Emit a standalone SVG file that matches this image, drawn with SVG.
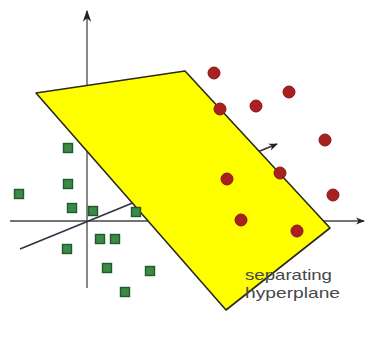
<svg xmlns="http://www.w3.org/2000/svg" width="366" height="340" viewBox="0 0 366 340">
<style>
.sq{fill:#3b8a48;stroke:#1f5a2a;stroke-width:1.4}
.dot{fill:#a82020;stroke:#8a1515;stroke-width:1}
.lbl{font-family:"Liberation Sans",Arial,sans-serif;font-size:15px;fill:#484848}
</style>
<defs>
<marker id="ah" viewBox="0 0 10 10" refX="9" refY="5" markerWidth="9" markerHeight="9" markerUnits="userSpaceOnUse" orient="auto">
<path d="M0,1 L10,5 L0,9 L3,5 Z" fill="#222"/>
</marker>
<marker id="ahv" viewBox="0 0 10 10" refX="9" refY="5" markerWidth="12" markerHeight="12" markerUnits="userSpaceOnUse" orient="auto">
<path d="M0,1.5 L10,5 L0,8.5 L3,5 Z" fill="#222"/>
</marker>
</defs>
<rect width="366" height="340" fill="#fff"/>
<g id="axes">
<line x1="87" y1="288" x2="87" y2="11" stroke="#888" stroke-width="2" marker-end="url(#ahv)"/>
<line x1="10" y1="221" x2="364" y2="221" stroke="#444" stroke-width="1.5" marker-end="url(#ah)"/>
<line x1="20" y1="249" x2="277" y2="144" stroke="#3a3048" stroke-width="1.8" marker-end="url(#ah)"/>
</g>
<g id="hyperplane">
<polygon points="36,93 185,71 330,228 226,310" fill="#ffff00" stroke="#2a2a1a" stroke-width="1.6" stroke-linejoin="round"/>
</g>
<g id="class-squares">
<rect class="sq" x="63.5" y="143.5" width="9" height="9"/>
<rect class="sq" x="63.5" y="179.5" width="9" height="9"/>
<rect class="sq" x="14.5" y="189.5" width="9" height="9"/>
<rect class="sq" x="67.5" y="203.5" width="9" height="9"/>
<rect class="sq" x="88.5" y="206.5" width="9" height="9"/>
<rect class="sq" x="131.5" y="207.5" width="9" height="9"/>
<rect class="sq" x="95.5" y="234.5" width="9" height="9"/>
<rect class="sq" x="110.5" y="234.5" width="9" height="9"/>
<rect class="sq" x="62.5" y="244.5" width="9" height="9"/>
<rect class="sq" x="102.5" y="263.5" width="9" height="9"/>
<rect class="sq" x="145.5" y="266.5" width="9" height="9"/>
<rect class="sq" x="120.5" y="287.5" width="9" height="9"/>
</g>
<g id="class-circles">
<circle class="dot" cx="214" cy="73" r="6"/>
<circle class="dot" cx="289" cy="92" r="6"/>
<circle class="dot" cx="256" cy="106" r="6"/>
<circle class="dot" cx="220" cy="109" r="6"/>
<circle class="dot" cx="325" cy="140" r="6"/>
<circle class="dot" cx="280" cy="173" r="6"/>
<circle class="dot" cx="227" cy="179" r="6"/>
<circle class="dot" cx="333" cy="195" r="6"/>
<circle class="dot" cx="241" cy="220" r="6"/>
<circle class="dot" cx="297" cy="231" r="6"/>
</g>
<g id="label">
<text class="lbl" x="245" y="280" textLength="87" lengthAdjust="spacingAndGlyphs">separating</text>
<text class="lbl" x="245" y="298" textLength="95" lengthAdjust="spacingAndGlyphs">hyperplane</text>
</g>
</svg>
